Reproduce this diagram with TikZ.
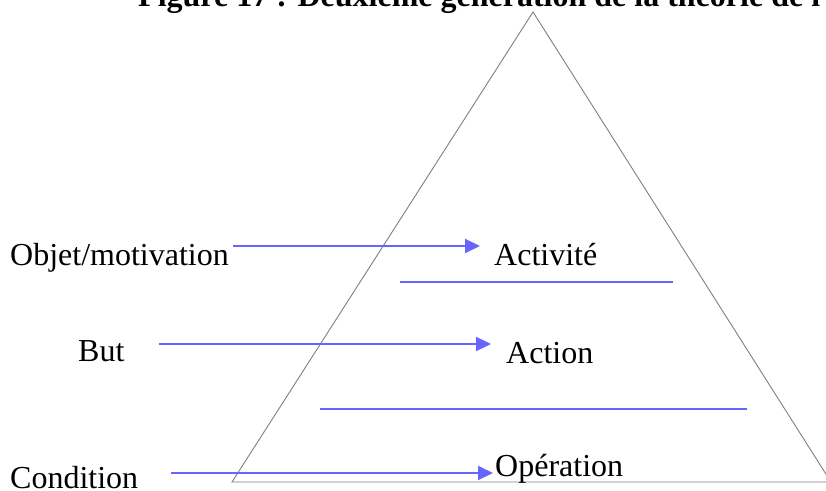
\documentclass[tikz,border=0pt]{standalone}
\usepackage{fontspec}
\setmainfont{Liberation Serif}
\usetikzlibrary{arrows.meta}
\definecolor{lineblue}{RGB}{102,102,255}
\definecolor{trigray}{RGB}{128,128,128}
\begin{document}
\begin{tikzpicture}[x=1pt,y=-1pt,
  lbl/.style={anchor=base west,inner sep=0pt,font=\fontsize{32}{38}\selectfont},
  ttl/.style={anchor=base west,inner sep=0pt,font=\fontsize{32}{38}\selectfont\bfseries},
  bluearrow/.style={draw=lineblue,line width=2pt,-{Triangle[length=15pt,width=14pt]}},
  blueline/.style={draw=lineblue,line width=2pt},
  triline/.style={draw=trigray,line width=0.9pt}]
\useasboundingbox (0,0) rectangle (826,490);
\clip (0,0) rectangle (826,490);
\fill[white] (0,0) rectangle (826,490);
% title (cropped)
\node[ttl] (title) at (138,6) {Figure 17 : Deuxième génération de la théorie de l'activité};
% triangle
\coordinate (apex) at (533,12);
\coordinate (bl) at (232,482);
\coordinate (br) at (831,482);
\draw[triline] (apex) -- (bl) -- (br) -- cycle;
% labels
\node[lbl] (objet) at (10,265) {Objet/motivation};
\node[lbl] (activite) at (494,265) {Activité};
\node[lbl] (but) at (78,361) {But};
\node[lbl] (action) at (506,363) {Action};
\node[lbl] (condition) at (10,488) {Condition};
\node[lbl] (operation) at (495,476) {Opération};
% arrows
\coordinate (a1s) at (233,246); \coordinate (a1e) at (480,246);
\coordinate (a2s) at (159,344); \coordinate (a2e) at (491,344);
\coordinate (a3s) at (171,473); \coordinate (a3e) at (493,473);
\draw[bluearrow] (a1s) -- (a1e);
\draw[bluearrow] (a2s) -- (a2e);
\draw[bluearrow] (a3s) -- (a3e);
% separator lines
\coordinate (l1s) at (400,282); \coordinate (l1e) at (673,282);
\coordinate (l2s) at (320,409); \coordinate (l2e) at (747,409);
\draw[blueline] (l1s) -- (l1e);
\draw[blueline] (l2s) -- (l2e);
\end{tikzpicture}
\end{document}
